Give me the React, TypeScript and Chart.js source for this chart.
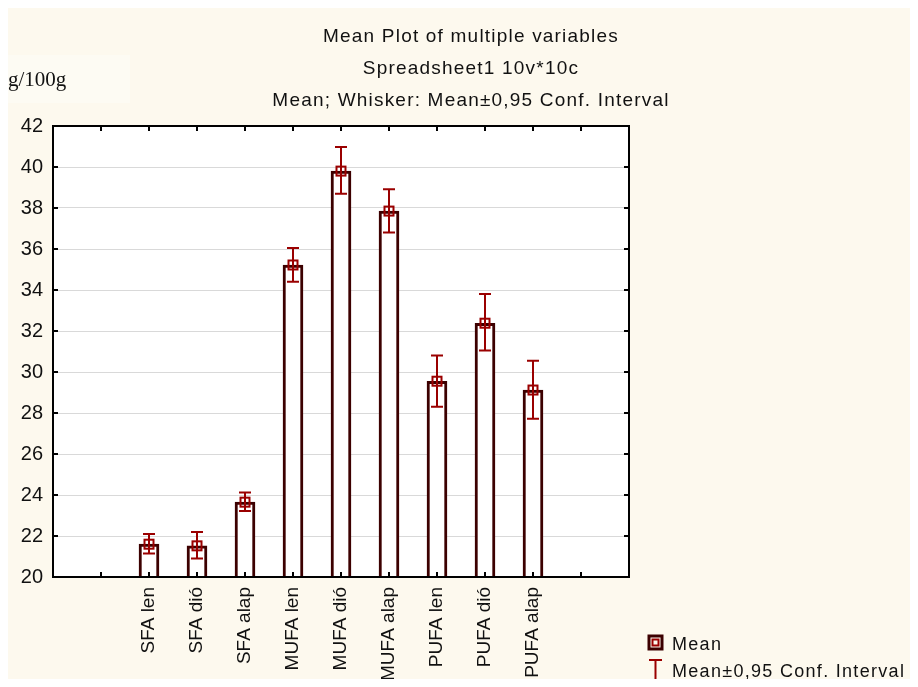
import { useEffect, useRef } from 'react';
import { Chart, registerables } from 'chart.js';

Chart.register(...registerables);

const categories = ['SFA len', 'SFA dió', 'SFA alap', 'MUFA len', 'MUFA dió', 'MUFA alap', 'PUFA len', 'PUFA dió', 'PUFA alap'];
const means = [21.6, 21.52, 23.65, 35.22, 39.8, 37.85, 29.55, 32.38, 29.12];
const ciLow = [21.15, 20.9, 23.22, 34.4, 38.7, 36.8, 28.3, 31.05, 27.72];
const ciHigh = [22.1, 22.2, 24.12, 36.05, 40.98, 38.92, 30.8, 33.8, 30.55];
const titleLines = ['Mean Plot of multiple variables', 'Spreadsheet1 10v*10c', 'Mean; Whisker: Mean±0,95 Conf. Interval'];
const unitLabel = 'g/100g';
const legendLabels = ['Mean', 'Mean±0,95 Conf. Interval'];
const yMin = 20;
const yMax = 42;
const yStep = 2;

const PAD = 2; // empty slots on each side
const axisLabels = [...Array(PAD).fill(''), ...categories, ...Array(PAD).fill('')];
const axisData = [...Array(PAD).fill(null), ...means, ...Array(PAD).fill(null)];

const BG = '#fdf9ee';
const BAR = '#3c0000';
const RED = '#9a0000';
const FONT = '"Liberation Sans", Arial, sans-serif';

export default function App() {
  const ref = useRef<HTMLCanvasElement>(null);

  useEffect(() => {
    const canvas = ref.current;
    if (!canvas) return;

    const plugin = {
      id: 'statisticaStyle',
      beforeDraw(chart: any) {
        const { ctx, chartArea: a, width, height } = chart;
        ctx.save();
        ctx.fillStyle = BG;
        ctx.fillRect(0, 0, width, height);
        ctx.fillStyle = '#fdfbf3';
        ctx.fillRect(0, 47, 122, 48);
        ctx.fillStyle = '#ffffff';
        ctx.fillRect(a.left, a.top, a.right - a.left, a.bottom - a.top);
        ctx.restore();
      },
      afterDatasetsDraw(chart: any) {
        const { ctx } = chart;
        const xs = chart.scales.x;
        const ys = chart.scales.y;
        ctx.save();
        ctx.strokeStyle = RED;
        ctx.lineWidth = 2;
        means.forEach((m, i) => {
          const x = Math.round(xs.getPixelForValue(i + PAD));
          const yl = ys.getPixelForValue(ciLow[i]);
          const yh = ys.getPixelForValue(ciHigh[i]);
          const ym = ys.getPixelForValue(m);
          ctx.beginPath();
          ctx.moveTo(x, yl);
          ctx.lineTo(x, yh);
          ctx.moveTo(x - 6, yl);
          ctx.lineTo(x + 6, yl);
          ctx.moveTo(x - 6, yh);
          ctx.lineTo(x + 6, yh);
          ctx.stroke();
          ctx.strokeRect(x - 4.5, ym - 4.5, 9, 9);
        });
        ctx.restore();
      },
      afterDraw(chart: any) {
        const { ctx, chartArea: a, width } = chart;
        const xs = chart.scales.x;
        const ys = chart.scales.y;
        ctx.save();
        // inward tick marks
        ctx.strokeStyle = '#000';
        ctx.lineWidth = 2;
        ctx.beginPath();
        for (let i = 0; i < axisLabels.length; i++) {
          const x = Math.round(xs.getPixelForValue(i));
          ctx.moveTo(x, a.top);
          ctx.lineTo(x, a.top + 5);
          ctx.moveTo(x, a.bottom);
          ctx.lineTo(x, a.bottom - 5);
        }
        ys.ticks.forEach((t: any) => {
          const y = Math.round(ys.getPixelForValue(t.value));
          ctx.moveTo(a.left, y);
          ctx.lineTo(a.left + 5, y);
          ctx.moveTo(a.right, y);
          ctx.lineTo(a.right - 5, y);
        });
        ctx.stroke();
        // frame
        ctx.strokeRect(a.left, a.top, a.right - a.left, a.bottom - a.top);

        // title
        ctx.fillStyle = '#111';
        ctx.font = `19px ${FONT}`;
        (ctx as any).letterSpacing = '1.2px';
        ctx.textAlign = 'center';
        ctx.textBaseline = 'middle';
        titleLines.forEach((line, i) => {
          ctx.fillText(line, width / 2 + 8, 29 + i * 32);
        });

        // unit label
        (ctx as any).letterSpacing = '0px';
        ctx.textAlign = 'left';
        ctx.font = `21px "Liberation Serif", "Times New Roman", serif`;
        ctx.fillText(unitLabel, 0, 72);

        // legend
        const lx = 647.5;
        ctx.strokeStyle = BAR;
        ctx.lineWidth = 3;
        ctx.strokeRect(lx - 6.5, 628, 13, 13);
        ctx.strokeStyle = RED;
        ctx.lineWidth = 2;
        ctx.strokeRect(lx - 3, 631.5, 6, 6);
        ctx.beginPath();
        ctx.moveTo(lx, 652);
        ctx.lineTo(lx, 675);
        ctx.moveTo(lx - 6.5, 652);
        ctx.lineTo(lx + 6.5, 652);
        ctx.moveTo(lx - 6.5, 675);
        ctx.lineTo(lx + 6.5, 675);
        ctx.stroke();
        ctx.fillStyle = '#111';
        ctx.font = `18px ${FONT}`;
        (ctx as any).letterSpacing = '1.3px';
        ctx.fillText(legendLabels[0], 664, 637);
        ctx.fillText(legendLabels[1], 664, 664);
        (ctx as any).letterSpacing = '0px';
        ctx.restore();
      },
    };

    const chart = new Chart(canvas, {
      type: 'bar',
      data: {
        labels: axisLabels,
        datasets: [
          {
            data: axisData as any,
            backgroundColor: '#ffffff',
            borderColor: BAR,
            borderWidth: 3,
            borderSkipped: false,
            barThickness: 20,
          },
        ],
      },
      options: {
        responsive: false,
        animation: false,
        devicePixelRatio: 1,
        layout: { padding: { top: 118, right: 289, left: 0, bottom: 0 } },
        plugins: { legend: { display: false }, tooltip: { enabled: false }, title: { display: false } },
        scales: {
          x: {
            type: 'category',
            offset: false,
            grid: { display: false, drawTicks: false },
            border: { display: false },
            ticks: {
              autoSkip: false,
              minRotation: 90,
              maxRotation: 90,
              padding: 10,
              color: '#111',
              font: { family: FONT, size: 19 },
            },
            afterFit: (s: any) => {
              s.height = 110;
            },
          },
          y: {
            min: yMin,
            max: yMax,
            grid: { color: '#d9d9d9', lineWidth: 1, drawTicks: false },
            border: { display: false },
            ticks: {
              stepSize: yStep,
              padding: 10,
              color: '#111',
              font: { family: FONT, size: 20 },
            },
            afterFit: (s: any) => {
              s.width = 45;
            },
          },
        },
      },
      plugins: [plugin],
    });

    return () => chart.destroy();
  }, []);

  return (
    <div style={{ width: 910, height: 679, marginBottom: -8 }}>
      <canvas ref={ref} width={910} height={679} style={{ display: 'block', width: 910, height: 679 }} />
    </div>
  );
}
